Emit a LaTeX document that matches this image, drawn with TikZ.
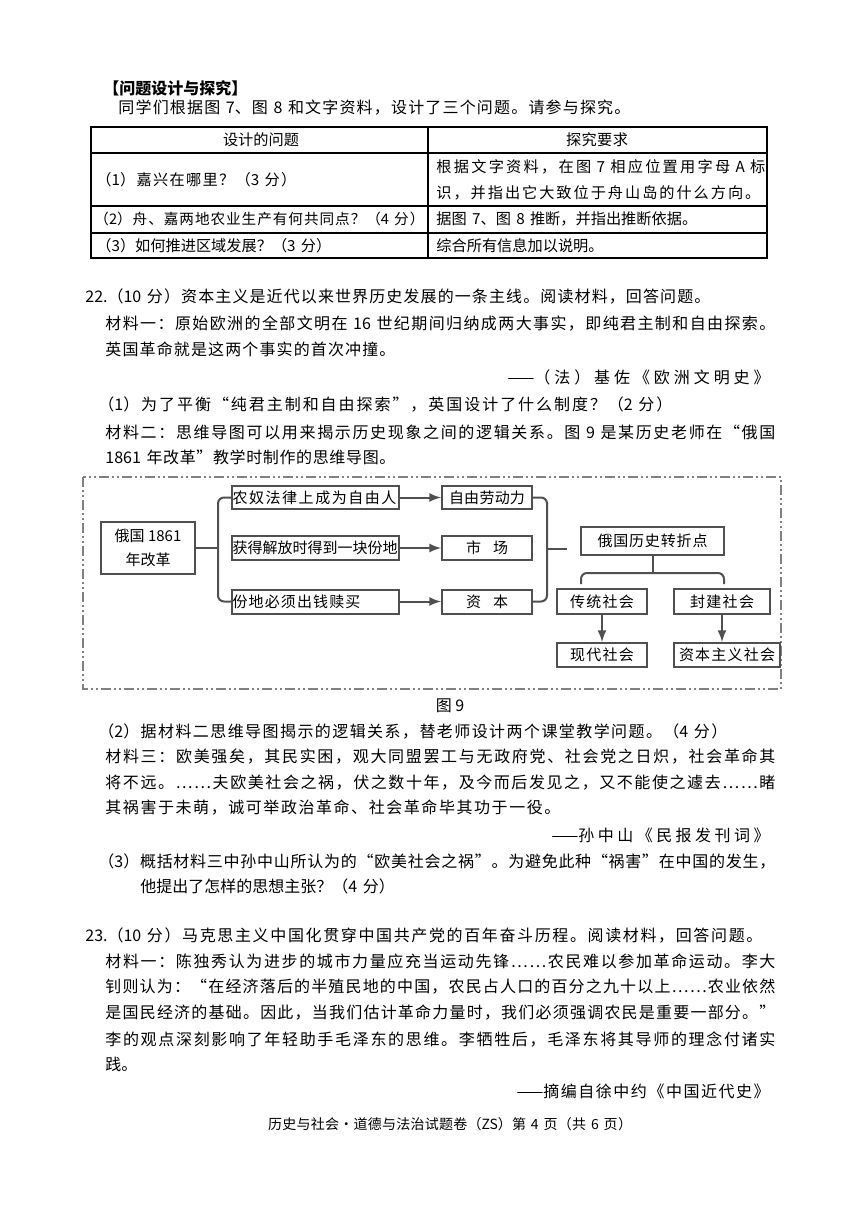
\documentclass[tikz,border=0pt]{standalone}
\usepackage{fontspec}
\setmainfont{Noto Sans CJK SC}
\definecolor{linegray}{RGB}{80,80,80}
\newdimen\pxu \pxu=0.5pt
% CJK characters and punctuation get class 7
\newcount\cjkc
\def\cjkrange#1#2{\cjkc=#1 \loop\XeTeXcharclass\cjkc=7 \ifnum\cjkc<#2 \advance\cjkc by 1 \repeat}
\cjkrange{"4E00}{"9FFF}
\cjkrange{"3000}{"303F}
\cjkrange{"FF00}{"FFEF}
\cjkrange{"2018}{"2026}
\newcommand\cjkglue{\hskip0pt plus1fil\relax}
\XeTeXinterchartoks 7 7 = {\cjkglue}
% stretch one line to a given width (in px)
\newcommand\jl[2]{{\XeTeXinterchartokenstate=1\relax\makebox[#1\pxu][s]{#2}}}
\newcommand\gap{\hspace{0.35em}}

\begin{document}
\begin{tikzpicture}[x=0.5pt,y={(0pt,-0.5pt)},>=latex,
	every node/.style={inner sep=0pt,font=\fontsize{8}{10}\selectfont},
	txt/.style={anchor=west},
	src/.style={anchor=east},
	cell/.style={font=\fontsize{7.6}{10}\selectfont},
	box/.style={draw=linegray,line width=1pt,font=\fontsize{7.5}{12}\selectfont},
	link/.style={draw=linegray,line width=1pt}]
	\fill[white] (0,0) rectangle (860,1215);
	\useasboundingbox (0,0) rectangle (860,1215);
	
	\node[txt,font=\fontsize{8}{10}\selectfont\bfseries] (head) at (103,88) {【问题设计与探究】};
	\node[txt] (intro) at (118,108) {\jl{512}{同学们根据图\gap 7、图\gap 8\gap 和文字资料，设计了三个问题。请参与探究。}};
	
	\begin{scope}[line width=0.6pt]
		\draw (91,127) rectangle (767,258) (428,127) -- (428,258);
		\foreach \y in {153,206,233}
			\draw (91,\y) -- (767,\y);
	\end{scope}
	
	\node[cell] (colq) at (260,140) {\jl{74}{设计的问题}};
	\node[cell] (colr) at (597,140) {\jl{62}{探究要求}};
	\node[cell,txt] (q1) at (96,180) {\jl{200}{（1）嘉兴在哪里？（3\gap 分）}};
	\node[cell,txt] (r1a) at (436,167) {\jl{329}{根据文字资料，在图\gap 7\gap 相应位置用字母\gap A\gap 标}};
	\node[cell,txt] (r1b) at (436,193) {\jl{324}{识，并指出它大致位于舟山岛的什么方向。}};
	\node[cell,txt,font=\fontsize{7.3}{10}\selectfont] (q2) at (94,219) {\jl{330}{（2）舟、嘉两地农业生产有何共同点？（4\gap 分）}};
	\node[cell,txt] (r2) at (436,219) {\jl{256}{据图\gap 7、图\gap 8\gap 推断，并指出推断依据。}};
	\node[cell,txt] (q3) at (96,246) {\jl{222}{（3）如何推进区域发展？（3\gap 分）}};
	\node[cell,txt] (r3) at (436,246) {\jl{156}{综合所有信息加以说明。}};
	
	\node[txt] (q22) at (85,297) {\jl{625}{22.（10\gap 分）资本主义是近代以来世界历史发展的一条主线。阅读材料，回答问题。}};
	\node[txt] (m1a) at (105,324) {\jl{670}{材料一：原始欧洲的全部文明在\gap 16\gap 世纪期间归纳成两大事实，即纯君主制和自由探索。}};
	\node[txt] (m1b) at (105,349) {\jl{290}{英国革命就是这两个事实的首次冲撞。}};
	\node[src] (m1s) at (770,377) {\jl{262}{——（法）基佐《欧洲文明史》}};
	\node[txt] (p1) at (98,405) {\jl{574}{（1）为了平衡“纯君主制和自由探索”，英国设计了什么制度？（2\gap 分）}};
	\node[txt] (m2a) at (105,432) {\jl{670}{材料二：思维导图可以用来揭示历史现象之间的逻辑关系。图\gap 9\gap 是某历史老师在“俄国}};
	\node[txt] (m2b) at (105,457) {\jl{290}{1861\gap 年改革”教学时制作的思维导图。}};
	
	% figure 9
	\draw[gray,line width=0.6pt,dash pattern=on 5pt off 1.5pt on 1pt off 1.5pt on 1pt off 1.5pt] (83,477) rectangle (781,689);
	
	\node[box,minimum width=47pt,minimum height=26pt,align=center] (reform) at (148,548) {俄国 1861\\年改革};
	\node[box,minimum width=83.5pt,minimum height=11.5pt,text width=83pt] (serf) at (315.5,497.5) {\jl{164}{农奴法律上成为自由人}};
	\node[box,minimum width=83.5pt,minimum height=12pt,text width=83pt] (land) at (315.5,548) {获得解放时得到一块份地};
	\node[box,minimum width=83.5pt,minimum height=12pt,text width=83pt] (pay) at (315.5,601.5) {\jl{128}{份地必须出钱赎买}};
	
	\node[box,minimum width=45pt,minimum height=11.5pt] (labor) at (487,497.5) {\jl{76}{自由劳动力}};
	\node[box,minimum width=45pt,minimum height=12pt] (market) at (487,548) {市\hspace{6pt}场};
	\node[box,minimum width=45pt,minimum height=12pt] (capital) at (487,601.5) {资\hspace{6pt}本};
	
	\node[box,minimum width=71.5pt,minimum height=14pt] (turn) at (652.5,541) {\jl{110}{俄国历史转折点}};
	\node[box,minimum width=45pt,minimum height=12.5pt] (trad) at (602,601.5) {\jl{64}{传统社会}};
	\node[box,minimum width=48pt,minimum height=12.5pt] (feud) at (722,601.5) {\jl{64}{封建社会}};
	\node[box,minimum width=45pt,minimum height=12pt] (modern) at (602,655) {\jl{64}{现代社会}};
	\node[box,minimum width=53pt,minimum height=12pt] (capsoc) at (727,655) {\jl{96}{资本主义社会}};
	
	\coordinate (lb) at (218,548);
	\coordinate (rb) at (547,549);
	\coordinate (rbt) at (567,549);
	\coordinate (split) at (652.5,573);
	\coordinate (bl) at (581,584);
	\coordinate (br) at (724,584);
	
	\draw[link] (reform.east) -- (lb);
	\draw[link,rounded corners=3pt] (serf.west) -| (lb) |- (pay.west);
	\foreach \a/\b in {serf/labor,land/market,pay/capital}
		\draw[link,->] (\a) -- (\b);
	\draw[link,rounded corners=3pt] (labor.east) -| (rb) |- (capital.east);
	\draw[link] (rb) -- (rbt);
	\draw[link] (turn.south) -- (split);
	\draw[link,rounded corners=3pt] (bl) |- (split) -| (br);
	\draw[link,->] (trad) -- (modern);
	\draw[link,->] (feud.south) -- (feud.south |- capsoc.north);
	
	\node (fig) at (450,706) {图 9};
	
	\node[txt] (p2) at (98,731) {\jl{629}{（2）据材料二思维导图揭示的逻辑关系，替老师设计两个课堂教学问题。（4\gap 分）}};
	\node[txt] (m3a) at (105,757) {\jl{670}{材料三：欧美强矣，其民实困，观大同盟罢工与无政府党、社会党之日炽，社会革命其}};
	\node[txt] (m3b) at (105,783) {\jl{670}{将不远。……夫欧美社会之祸，伏之数十年，及今而后发见之，又不能使之遽去……睹}};
	\node[txt] (m3c) at (105,808) {\jl{455}{其祸害于未萌，诚可举政治革命、社会革命毕其功于一役。}};
	\node[src] (m3s) at (770,835) {\jl{218}{——孙中山《民报发刊词》}};
	\node[txt] (p3a) at (98,861) {\jl{677}{（3）概括材料三中孙中山所认为的“欧美社会之祸”。为避免此种“祸害”在中国的发生，}};
	\node[txt] (p3b) at (140,886) {\jl{253}{他提出了怎样的思想主张？（4\gap 分）}};
	
	\node[txt] (q23) at (85,935) {\jl{677}{23.（10\gap 分）马克思主义中国化贯穿中国共产党的百年奋斗历程。阅读材料，回答问题。}};
	\node[txt] (n1a) at (105,961) {\jl{670}{材料一：陈独秀认为进步的城市力量应充当运动先锋……农民难以参加革命运动。李大}};
	\node[txt] (n1b) at (105,987) {\jl{670}{钊则认为：“在经济落后的半殖民地的中国，农民占人口的百分之九十以上……农业依然}};
	\node[txt] (n1c) at (105,1013) {\jl{670}{是国民经济的基础。因此，当我们估计革命力量时，我们必须强调农民是重要一部分。”}};
	\node[txt] (n1d) at (105,1039) {\jl{670}{李的观点深刻影响了年轻助手毛泽东的思维。李牺牲后，毛泽东将其导师的理念付诸实}};
	\node[txt] (n1e) at (105,1064) {践。};
	\node[src] (n1s) at (770,1091) {\jl{253}{——摘编自徐中约《中国近代史》}};
	
	\node[font=\fontsize{7}{10}\selectfont] (foot) at (450,1124) {\jl{364}{历史与社会•道德与法治试题卷（ZS）第\gap 4\gap 页（共\gap 6\gap 页）}};
\end{tikzpicture}
\end{document}
